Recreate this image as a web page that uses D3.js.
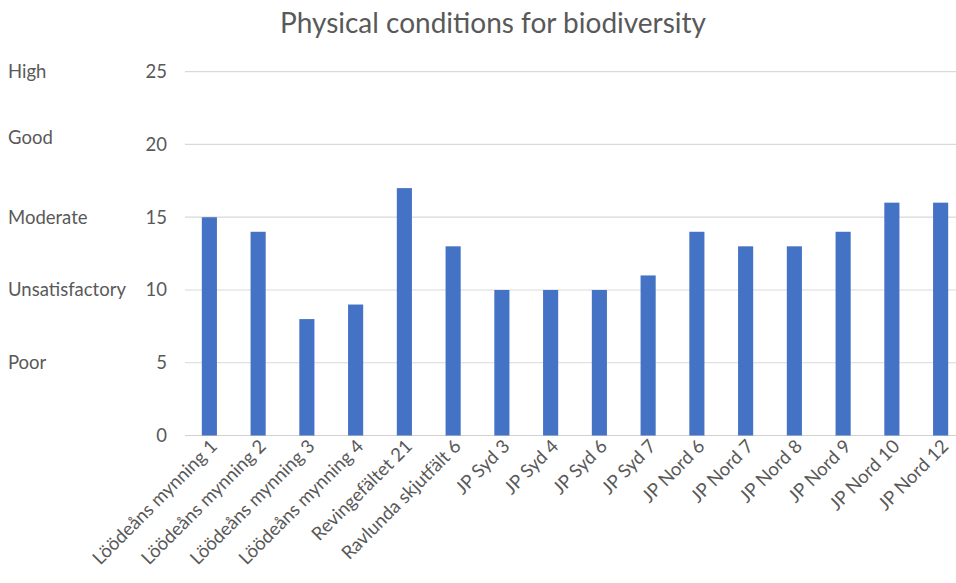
<!DOCTYPE html>
<html>
<head>
<meta charset="utf-8">
<script src="https://cdn.jsdelivr.net/npm/d3@7"></script>
<style>
  html, body { margin: 0; padding: 0; background: #fff; }
  svg text { font-family: Lato, "Open Sans", sans-serif; fill: #595959; }
</style>
</head>
<body>
<svg id="chart" width="956" height="583"></svg>
<script>
// Sites and their scores
const sites = [
  "Löödeåns mynning 1", "Löödeåns mynning 2", "Löödeåns mynning 3", "Löödeåns mynning 4",
  "Revingefältet 21", "Ravlunda skjutfält 6", "JP Syd 3", "JP Syd 4", "JP Syd 6",
  "JP Syd 7", "JP Nord 6", "JP Nord 7", "JP Nord 8", "JP Nord 9", "JP Nord 10", "JP Nord 12"
];
const scores = [15, 14, 8, 9, 17, 13, 10, 10, 10, 11, 14, 13, 13, 14, 16, 16];
const yTicks = [0, 5, 10, 15, 20, 25];
// Rating classes written to the left of the value axis
const classLabels = ["High", "Good", "Moderate", "Unsatisfactory", "Poor"];
const classLevels = [25, 20.5, 15, 10, 5];

const svg = d3.select("#chart");
const margin = { left: 185, right: -9, top: 71.7, bottom: 147.5 };
const W = 956, H = 583;

const x = d3.scaleBand()
  .domain(sites)
  .range([margin.left, W - margin.right])
  .paddingInner(0.69)
  .paddingOuter(0.345);

const y = d3.scaleLinear()
  .domain([0, 25])
  .range([H - margin.bottom, margin.top]);

// Title
svg.append("text")
  .attr("x", 493).attr("y", 33)
  .attr("text-anchor", "middle")
  .style("font-size", "28px")
  .text("Physical conditions for biodiversity");

// Gridlines
svg.append("g")
  .selectAll("line")
  .data(yTicks)
  .join("line")
  .attr("x1", margin.left).attr("x2", W)
  .attr("y1", d => y(d)).attr("y2", d => y(d))
  .attr("stroke", d => d === 0 ? "#d0d0d0" : "#d9d9d9")
  .attr("stroke-width", 1.2);

// Value axis labels
const yAxis = d3.axisLeft(y).tickValues(yTicks).tickSize(0).tickPadding(18);
const gy = svg.append("g").attr("transform", `translate(${margin.left},0)`).call(yAxis);
gy.select(".domain").remove();
gy.selectAll("text").style("font-size", "18.5px").style("font-family", null);

// Bars
svg.append("g")
  .selectAll("rect")
  .data(scores)
  .join("rect")
  .attr("x", (d, i) => x(sites[i]))
  .attr("width", x.bandwidth())
  .attr("y", d => y(d))
  .attr("height", d => y(0) - y(d))
  .attr("fill", "#4472c4");

// Category labels, rotated
const xAxis = d3.axisBottom(x).tickSize(0).tickPadding(0);
const gx = svg.append("g").attr("transform", `translate(0,${y(0)})`).call(xAxis);
gx.select(".domain").remove();
gx.selectAll("text")
  .style("font-size", "18.5px")
  .style("font-family", null)
  .attr("text-anchor", "end")
  .attr("dy", null)
  .attr("transform", "translate(9,12) rotate(-45)");

// Rating classes
svg.append("g")
  .selectAll("text")
  .data(classLabels)
  .join("text")
  .attr("x", 8)
  .attr("y", (d, i) => y(classLevels[i]) + 6.5)
  .style("font-size", "18.5px")
  .text(d => d);
</script>
</body>
</html>
